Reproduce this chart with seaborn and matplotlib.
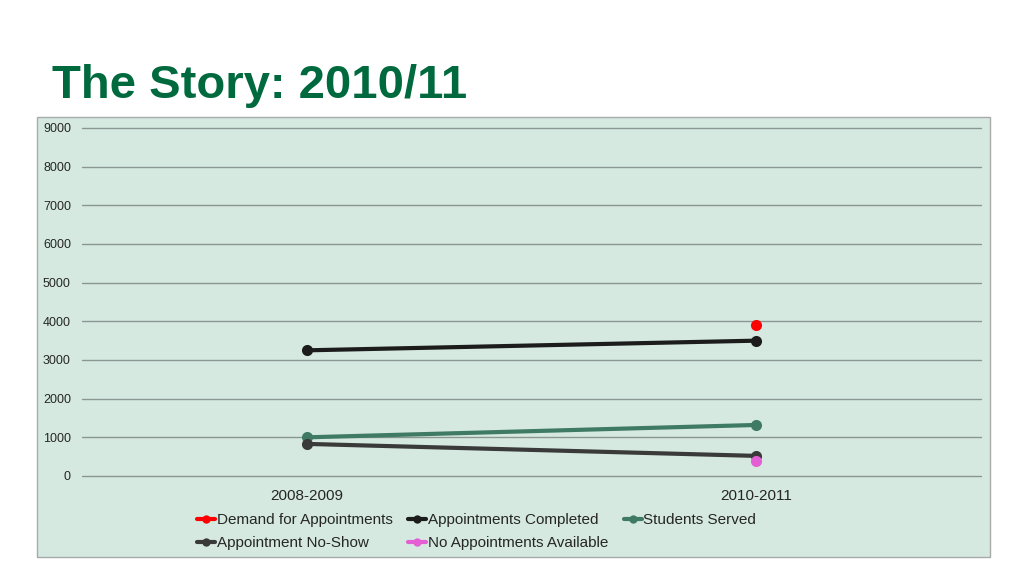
import numpy as np
import pandas as pd
import matplotlib.pyplot as plt
import matplotlib.patches as patches
import seaborn as sns

years = ["2008-2009", "2010-2011"]
demand = [np.nan, 3900]
completed = [3250, 3500]
students_served = [1000, 1320]
no_show = [830, 520]
no_available = [np.nan, 390]

series_names = ["Demand for Appointments", "Appointments Completed", "Students Served",
                "Appointment No-Show", "No Appointments Available"]
series_values = [demand, completed, students_served, no_show, no_available]
colors = ["#ff0000", "#1c1c1c", "#3f7a64", "#3a3a3a", "#e35fd3"]

rows = []
for name, vals in zip(series_names, series_values):
    for yr, v in zip(years, vals):
        rows.append({"year": yr, "value": v, "series": name})
df = pd.DataFrame(rows).dropna()
df["year"] = pd.Categorical(df["year"], categories=years, ordered=True)

sns.set_style("white")
plt.rcParams['font.family'] = ['Liberation Sans', 'DejaVu Sans']

fig = plt.figure(figsize=(10.24, 5.76), dpi=100)
fig.patch.set_facecolor("white")

# chart panel behind the axes
panel = patches.Rectangle((37 / 1024, 1 - 557 / 576), (990 - 37) / 1024, (557 - 117) / 576,
                          transform=fig.transFigure, facecolor="#d5e9e1",
                          edgecolor="#a8aaa9", linewidth=1, zorder=-1)
fig.patches.append(panel)

fig.text(52 / 1024, 1 - 86 / 576, "The Story: 2010/11", fontsize=34, fontweight="bold",
         color="#006a3e", va="center", ha="left")

ax = fig.add_axes([82 / 1024, 1 - 476 / 576, (981 - 82) / 1024, (476 - 128) / 576])
ax.set_facecolor("none")

sns.lineplot(data=df, x="year", y="value", hue="series", hue_order=series_names,
             palette=colors, marker="o", markersize=8, markeredgewidth=0,
             linewidth=3, sort=False, ax=ax)

ax.set_xlim(-0.5, 1.5)
ax.set_ylim(0, 9000)
ax.set_yticks(range(0, 9001, 1000))
ax.grid(axis="y", color="#8a9691", linewidth=1)
for gl in ax.get_ygridlines():
    gl.set_clip_on(False)
ax.set_axisbelow(True)
for s in ax.spines.values():
    s.set_visible(False)
ax.tick_params(axis="y", length=0, labelsize=9, pad=8)
ax.tick_params(axis="x", length=0, labelsize=11, pad=9)
ax.set_xlabel("")
ax.set_ylabel("")

handles, labels = ax.get_legend_handles_labels()
lookup = dict(zip(labels, handles))
order = ["Demand for Appointments", "Appointment No-Show", "Appointments Completed",
         "No Appointments Available", "Students Served"]
leg = ax.legend([lookup[n] for n in order], order, ncol=3, loc="upper left",
                bbox_to_anchor=(197 / 1024, 1 - 513 / 576), bbox_transform=fig.transFigure,
                frameon=False, fontsize=11, handlelength=1.2, handletextpad=0.1,
                columnspacing=1.0, labelspacing=0.62, borderpad=0, borderaxespad=0)
for h in leg.legend_handles:
    h.set_markersize(6)

fig.savefig("out.png", dpi=100)
